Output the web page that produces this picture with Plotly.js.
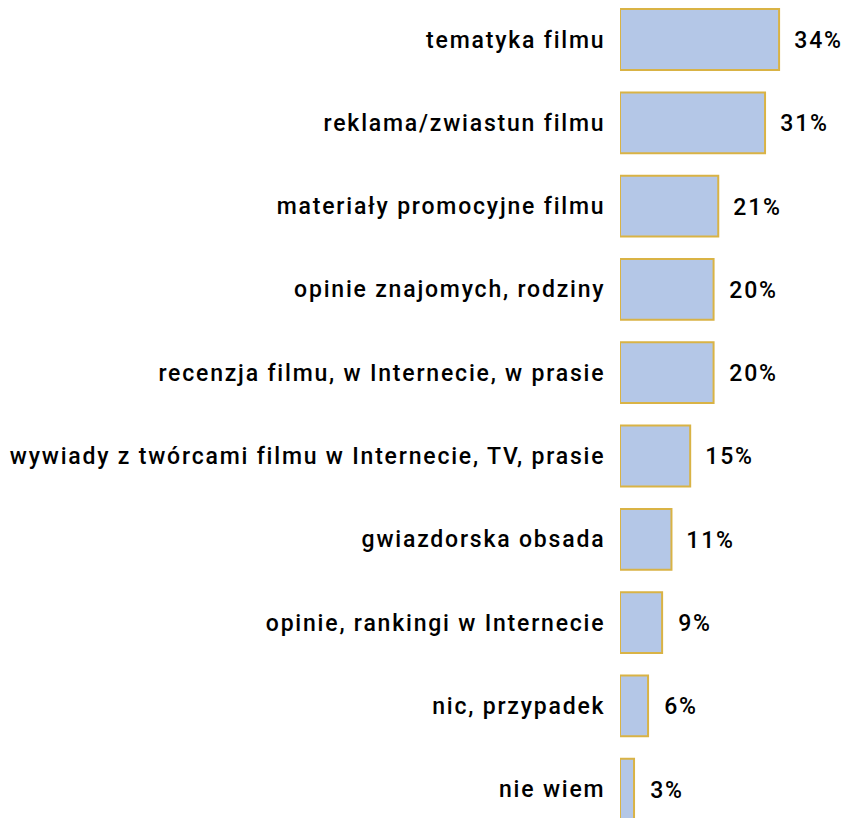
<!DOCTYPE html>
<html><head><meta charset="utf-8">
<script src="https://cdn.plot.ly/plotly-3.0.1.min.js"></script>
<style>
html,body{margin:0;padding:0;background:#fff}
#chart text{letter-spacing:1.8px}
</style>
</head><body>
<div id="chart" style="width:846px;height:818px"></div>
<script>
const categories = [
  "tematyka filmu",
  "reklama/zwiastun filmu",
  "materiały promocyjne filmu",
  "opinie znajomych, rodziny",
  "recenzja filmu, w Internecie, w prasie",
  "wywiady z twórcami filmu w Internecie, TV, prasie",
  "gwiazdorska obsada",
  "opinie, rankingi w Internecie",
  "nic, przypadek",
  "nie wiem"
];
const values = [34, 31, 21, 20, 20, 15, 11, 9, 6, 3];
const valueLabels = values.map(v => v + "%");

const FONT = "Roboto, 'DejaVu Sans', sans-serif";

const trace = {
  type: "bar",
  orientation: "h",
  y: categories,
  x: values,
  width: 0.73,
  marker: { color: "#b4c7e7", line: { color: "#d9b345", width: 2 } },
  hoverinfo: "none"
};

const annotations = categories.map((c, i) => ({
  x: values[i], y: c, xref: "x", yref: "y",
  text: valueLabels[i], showarrow: false,
  xanchor: "left", yanchor: "middle", xshift: 16, yshift: -1,
  font: { family: FONT, size: 23, color: "#000", weight: 500 }
}));

const layout = {
  width: 846, height: 818,
  margin: { l: 620, r: 0, t: 0, b: 0, pad: 0 },
  paper_bgcolor: "#fff", plot_bgcolor: "#fff",
  showlegend: false,
  xaxis: { range: [0, 48.3], visible: false, fixedrange: true },
  yaxis: {
    type: "category", range: [9.346, -0.474], autorange: false,
    showgrid: false, zeroline: false, showline: false,
    ticks: "outside", ticklen: 9, tickcolor: "rgba(0,0,0,0)",
    automargin: false,
    tickfont: { family: FONT, size: 23, color: "#000", weight: 500 }
  },
  annotations: annotations
};

Plotly.newPlot("chart", [trace], layout, { displayModeBar: false, staticPlot: true });
</script>
</body></html>
